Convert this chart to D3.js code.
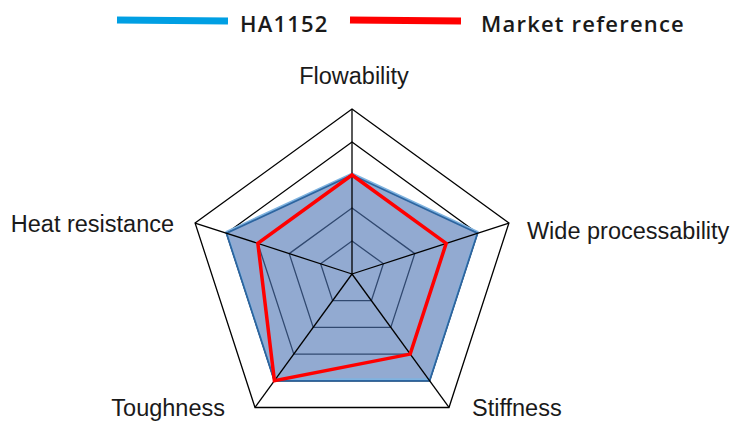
<!DOCTYPE html>
<html>
<head>
<meta charset="utf-8">
<script src="https://cdn.jsdelivr.net/npm/d3@7"></script>
<style>
  body { margin: 0; background: #fff; }
  svg { display: block; }
</style>
</head>
<body>
<div id="chart"></div>
<script>
const axesNames = ["Flowability", "Wide processability", "Stiffness", "Toughness", "Heat resistance"];
const ha1152 = [3, 4, 4, 4, 4];
const marketRef = [3, 3, 3, 4, 3];
const seriesNames = ["HA1152", "Market reference"];
const levels = [1, 2, 3, 4, 5];

const width = 732, height = 423;
const cx = 352, cy = 274, radius = 165;

const svg = d3.select("#chart").append("svg")
  .attr("width", width)
  .attr("height", height);

const rScale = d3.scaleLinear().domain([0, 5]).range([0, radius]);
const angle = d3.scaleLinear().domain([0, axesNames.length]).range([0, 2 * Math.PI]);

const pt = (i, v) => [
  cx + rScale(v) * Math.sin(angle(i)),
  cy - rScale(v) * Math.cos(angle(i))
];

const line = d3.line().curve(d3.curveLinearClosed);

// rings
svg.append("g")
  .selectAll("path")
  .data(levels)
  .enter()
  .append("path")
    .attr("d", lv => line(axesNames.map((_, i) => pt(i, lv))))
    .attr("fill", "none")
    .attr("stroke", "#000")
    .attr("stroke-width", 1.3);

// HA1152 area
svg.append("path")
  .attr("d", line(ha1152.map((v, i) => pt(i, v))))
  .attr("fill", "#4f76b4")
  .attr("fill-opacity", 0.62)
  .attr("stroke", "none");

svg.append("path")
  .attr("d", line(ha1152.map((v, i) => pt(i, v))))
  .attr("transform", "translate(0,-1.5)")
  .attr("fill", "none")
  .attr("stroke", "#7fb3e0")
  .attr("stroke-width", 2);

svg.append("path")
  .attr("d", line(ha1152.map((v, i) => pt(i, v))))
  .attr("fill", "none")
  .attr("stroke", "#2c65a0")
  .attr("stroke-width", 1.8);

// spokes
svg.append("g")
  .selectAll("line")
  .data(axesNames)
  .enter()
  .append("line")
    .attr("x1", cx)
    .attr("y1", cy)
    .attr("x2", (d, i) => pt(i, 5)[0])
    .attr("y2", (d, i) => pt(i, 5)[1])
    .attr("stroke", "#000")
    .attr("stroke-width", 1.3);

// market reference
svg.append("path")
  .attr("d", line(marketRef.map((v, i) => pt(i, v))))
  .attr("fill", "none")
  .attr("stroke", "#ff0000")
  .attr("stroke-width", 3.5)
  .attr("stroke-linejoin", "miter");

// axis labels
const labelPos = [
  {dx: 2, dy: -25, anchor: "middle"},
  {dx: 18, dy: 16, anchor: "start"},
  {dx: 23, dy: 9, anchor: "start"},
  {dx: -30, dy: 9, anchor: "end"},
  {dx: -21, dy: 9, anchor: "end"}
];

svg.append("g")
  .selectAll("text")
  .data(axesNames)
  .enter()
  .append("text")
    .attr("x", (d, i) => pt(i, 5)[0] + labelPos[i].dx)
    .attr("y", (d, i) => pt(i, 5)[1] + labelPos[i].dy)
    .attr("text-anchor", (d, i) => labelPos[i].anchor)
    .attr("font-family", "'Liberation Sans', Arial, sans-serif")
    .attr("font-size", "23.5px")
    .attr("fill", "#1a1a1a")
    .text(d => d);

// legend
const legendColors = ["#009fe3", "#ff0000"];
const legendX = [117, 350];
const legendTextX = [123, 131];
const legend = svg.append("g")
  .selectAll("g")
  .data(seriesNames)
  .enter()
  .append("g")
    .attr("transform", (d, i) => `translate(${legendX[i]}, 20)`);

legend.append("line")
  .attr("x1", 0)
  .attr("x2", 111)
  .attr("y1", 0)
  .attr("y2", 1)
  .attr("stroke", (d, i) => legendColors[i])
  .attr("stroke-width", 7);

legend.append("text")
  .attr("x", (d, i) => legendTextX[i])
  .attr("y", 12)
  .attr("font-family", "'Open Sans', sans-serif")
  .attr("font-weight", 600)
  .attr("font-size", "22px")
  .attr("letter-spacing", "1.2px")
  .attr("fill", "#1a1a1a")
  .text(d => d);
</script>
</body>
</html>
